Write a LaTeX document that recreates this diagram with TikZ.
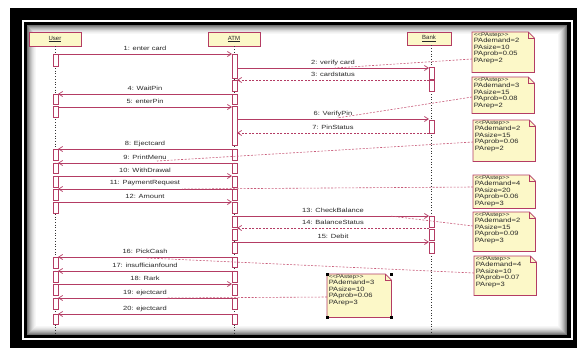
\documentclass[tikz,border=0pt]{standalone}
\usepackage{fontspec}
\setmainfont{Liberation Sans}
\usetikzlibrary{arrows.meta}
\definecolor{lc}{RGB}{180,60,100}
\definecolor{nc}{RGB}{200,90,120}
\definecolor{yl}{RGB}{252,248,200}
\definecolor{tx}{RGB}{40,40,40}
\newcommand\panote[9]{%
  \node[notebox, minimum width=#4, minimum height=#5] (#1) at (#2,#3) {};
  \filldraw[fill=yl, draw=lc, line width=0.7] (#1.north west) -- ([xshift=-6pt]#1.north east) -- ([yshift=-6pt]#1.north east) -- (#1.south east) -- (#1.south west) -- cycle;
  \draw[lc, line width=0.5] ([xshift=-6pt]#1.north east) -- ([xshift=-6pt,yshift=-6pt]#1.north east) -- ([yshift=-6pt]#1.north east);
  \node[notetxt] (#1t) at ([xshift=1.5pt,yshift=-0.8pt]#1.north west) {{\fontsize{5.2}{6.4}\selectfont <{}<PAstep>{}>}\\PAdemand=#6\\PAsize=#7\\PAprob=#8\\PArep=#9};
}
\begin{document}
\begin{tikzpicture}[x=1pt,y=-1pt,
  head/.style={draw=lc, fill=yl, line width=0.8, minimum width=52, minimum height=14, inner sep=0, font=\fontsize{6}{7}\selectfont, text=tx},
  act/.style={draw=lc, fill=white, line width=0.7},
  msg/.style={draw=lc, line width=0.7, -{Straight Barb[length=4pt,width=5pt]}},
  ret/.style={msg, dash pattern=on 2pt off 1.5pt},
  lbl/.style={font=\fontsize{6}{7}\selectfont, text=tx, xscale=1.25, inner sep=0},
  life/.style={black!80, dotted, line width=0.7},
  notebox/.style={inner sep=0, anchor=north west},
  notetxt/.style={font=\fontsize{6.2}{6.4}\selectfont, align=left, inner sep=0, xscale=1.22, anchor=north west, text=tx},
  link/.style={draw=nc, dash pattern=on 2pt off 1.5pt, line width=0.6}]
\useasboundingbox (0,0) rectangle (577,348);
% frame
\fill[white] (0,0) rectangle (577,348);
\fill[black] (10,8) rectangle (577,348);
\draw[white, line width=2] (23,21) rectangle (571.5,339);
\fill[white] (27,25) rectangle (567,335);
\foreach \i/\c in {0/55,1/45,2/36,3/28,4/21,5/15,6/10,7/6,8/3}
  \draw[black!\c, line width=1] ({27.5+\i},{25.5+\i}) rectangle ({566.5-\i},{334.5-\i});
% heads
\node[head] (user) at (55,39) {\underline{User}};
\node[head] (atm) at (234,39) {\underline{ATM}};
\node[head, minimum width=44, minimum height=13] (bank) at (429,38.5) {\underline{Bank}};
\coordinate (uend) at (55.5,334);
\coordinate (aend) at (234.5,334);
\coordinate (bend) at (431.5,334);
\draw[life] (user.south -| uend) -- (uend);
\draw[life] (atm.south -| aend) -- (aend);
\draw[life] (bank.south -| bend) -- (bend);
% activations
\foreach \a/\b in {54/66,94/104,106/117,149/160,163/173,176/187,189/200,202/213,257/268,271/282,284/295,298/309,314/324}
  \draw[act] (53,\a) rectangle (58,\b);
\foreach \a/\b in {54/78,80/91,94/104,106/145,149/160,163/173,176/187,189/200,202/213,216/227,229/240,242/253,257/267,271/282,284/295,298/309,314/324}
  \draw[act] (232,\a) rectangle (237,\b);
\foreach \a/\b in {67/79,80/91,120/133,216/227,229/240,242/253}
  \draw[act] (429,\a) rectangle (434,\b);
% messages
\foreach \n/\y/\fa/\fb/\st/\t in {
  1/54/58/232/msg/1: enter card,
  2/68/237/429/msg/2: verify card,
  3/80/429/237/ret/3: cardstatus,
  4/94/232/58/msg/4: WaitPin,
  5/107/58/232/msg/5: enterPin,
  6/119/237/429/msg/6: VerifyPin,
  7/133/429/237/ret/7: PinStatus,
  8/149/232/58/msg/8: Ejectcard,
  9/163/232/58/msg/9: PrintMenu,
  10/176/58/232/msg/10: WithDrawal,
  11/189/232/58/msg/11: PaymentRequest,
  12/202/58/232/msg/12: Amount,
  13/216/237/429/msg/13: CheckBalance,
  14/228/429/237/ret/14: BalanceStatus,
  15/242/237/429/msg/15: Debit,
  16/257/232/58/msg/16: PickCash,
  17/271/232/58/msg/17: insufficianfound,
  18/284/58/232/msg/18: Rark,
  19/298/232/58/msg/19: ejectcard,
  20/314/232/58/msg/20: ejectcard}
{
  \coordinate (m\n a) at (\fa,\y);
  \coordinate (m\n b) at (\fb,\y);
  \draw[\st] (m\n a) -- (m\n b);
  \node[lbl] (l\n) at ({(\fa+\fb)/2},{\y-5.5}) {\t};
}
% notes
\panote{n1}{472}{32}{62}{40}{2}{10}{0.05}{2}
\panote{n2}{472}{77}{62}{36}{3}{15}{0.08}{2}
\panote{n3}{473}{120}{62}{41}{2}{15}{0.06}{2}
\panote{n4}{473}{175}{62}{33}{4}{20}{0.06}{3}
\panote{n5}{473}{212}{62}{39}{2}{15}{0.09}{3}
\panote{n6}{474}{256}{62}{39}{4}{10}{0.07}{3}
\panote{n7}{327}{274}{64}{43}{3}{10}{0.06}{3}
\foreach \c in {north west,north east,south west,south east}
  \fill[black] (n7.\c) ++(-1.5pt,-1.5pt) rectangle ++(3pt,3pt);
% note links
\coordinate (k1) at (335,68);
\coordinate (k2) at (337,118);
\coordinate (k3) at (157,161);
\coordinate (k4) at (182,189);
\coordinate (k5) at (390,216);
\coordinate (k6) at (147,258);
\coordinate (k7) at (167,298);
\draw[link] ([yshift=-27pt]n1.north west) -- (k1);
\draw[link] ([yshift=-20pt]n2.north west) -- (k2);
\draw[link] ([yshift=-22pt]n3.north west) -- (k3);
\draw[link] ([yshift=-12pt]n4.north west) -- (k4);
\draw[link] ([yshift=-14pt]n5.north west) -- (k5);
\draw[link] ([yshift=-17pt]n6.north west) -- (k6);
\draw[link] ([yshift=-23pt]n7.north west) -- (k7);
\end{tikzpicture}
\end{document}
